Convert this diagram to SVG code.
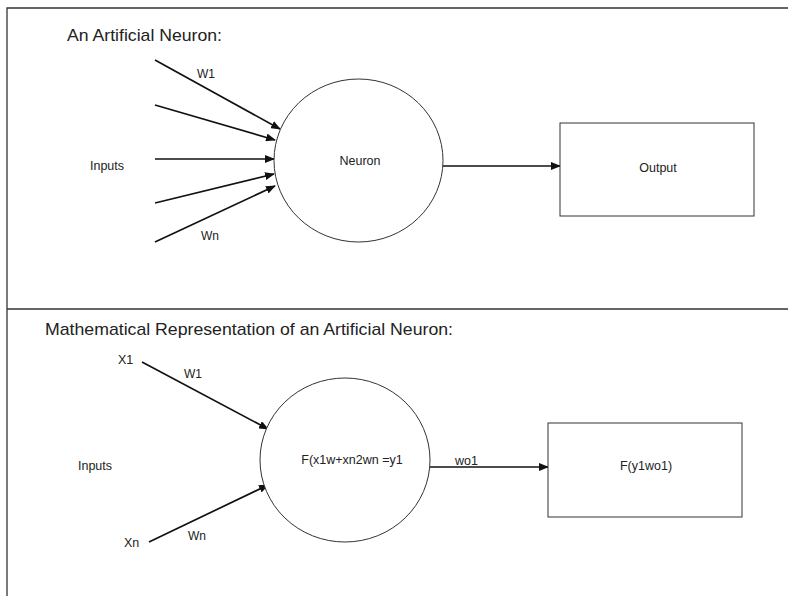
<svg xmlns="http://www.w3.org/2000/svg" width="788" height="596" viewBox="0 0 788 596">
<style>
text{font-family:"Liberation Sans",Arial,sans-serif;fill:#222}
.t{font-size:17px}
.s{font-size:12.5px}
.w{font-size:12px}
.c{text-anchor:middle}
.ln{stroke:#111;stroke-width:1.7;fill:none}
.sh{fill:#fff;stroke:#333;stroke-width:1}
.fr{stroke:#333;stroke-width:1.3;fill:none}
</style>
<defs>
<marker id="ah" markerWidth="10" markerHeight="8" refX="9" refY="4" orient="auto" markerUnits="userSpaceOnUse">
<path d="M0,0 L10,4 L0,8 Z" fill="#111"/>
</marker>
</defs>
<rect width="788" height="596" fill="#fff"/>
<g id="frame">
<path class="fr" d="M7,596 V8 H788 M7,309 H788"/>
</g>
<text class="t" x="67" y="41" textLength="155" lengthAdjust="spacingAndGlyphs">An Artificial Neuron:</text>
<text class="t" x="45" y="335" textLength="408" lengthAdjust="spacingAndGlyphs">Mathematical Representation of an Artificial Neuron:</text>
<g id="connectors">
<line class="ln" x1="155" y1="60" x2="280" y2="129" marker-end="url(#ah)"/>
<line class="ln" x1="155" y1="105" x2="275" y2="140" marker-end="url(#ah)"/>
<line class="ln" x1="155" y1="159" x2="274" y2="159" marker-end="url(#ah)"/>
<line class="ln" x1="155" y1="203" x2="274" y2="174" marker-end="url(#ah)"/>
<line class="ln" x1="155" y1="242" x2="275" y2="186" marker-end="url(#ah)"/>
<line class="ln" x1="443" y1="166" x2="560" y2="166" marker-end="url(#ah)"/>
<line class="ln" x1="142" y1="362" x2="268" y2="429" marker-end="url(#ah)"/>
<line class="ln" x1="149" y1="542" x2="268" y2="485" marker-end="url(#ah)"/>
<line class="ln" x1="430" y1="467" x2="548" y2="467" marker-end="url(#ah)"/>
</g>
<text class="w" x="197" y="78">W1</text>
<text class="w" x="201" y="240">Wn</text>
<text class="s c" x="107" y="170">Inputs</text>
<g id="neuron">
<ellipse class="sh" cx="358.5" cy="160.5" rx="84.5" ry="81.5"/>
<text class="s c" x="360" y="165">Neuron</text>
</g>
<g id="output">
<rect class="sh" x="560" y="123" width="194" height="93"/>
<text class="s c" x="658" y="172">Output</text>
</g>
<text class="s" x="118" y="364">X1</text>
<text class="w" x="184" y="378">W1</text>
<text class="s" x="124" y="547">Xn</text>
<text class="w" x="188" y="540">Wn</text>
<text class="s c" x="95" y="470">Inputs</text>
<g id="math-neuron">
<ellipse class="sh" cx="345" cy="460" rx="85" ry="82"/>
<text class="s c" x="352" y="464">F(x1w+xn2wn =y1</text>
</g>
<text class="s" x="455" y="465">wo1</text>
<g id="math-output">
<rect class="sh" x="548" y="423" width="194" height="94"/>
<text class="s c" x="646" y="470">F(y1wo1)</text>
</g>
</svg>
